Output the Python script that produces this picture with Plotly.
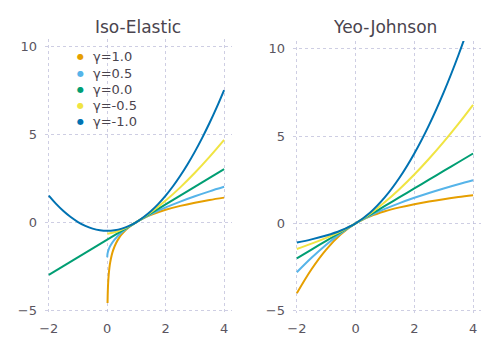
import plotly.graph_objects as go
from plotly.subplots import make_subplots

COLORS = ["#E69F00", "#56B4E9", "#009E73", "#F0E442", "#0072B2"]
LABELS = ["γ=1.0", "γ=0.5", "γ=0.0", "γ=-0.5", "γ=-1.0"]

# Iso-Elastic panel
iso_x_log = [0.01, 0.015, 0.02, 0.03, 0.05, 0.075, 0.1, 0.15, 0.2, 0.3, 0.4, 0.5, 0.65,
             0.8, 1, 1.25, 1.5, 2, 2.5, 3, 3.5, 4]
iso_y_log = [-4.605, -4.200, -3.912, -3.507, -2.996, -2.590, -2.303, -1.897, -1.609, -1.204,
             -0.916, -0.693, -0.431, -0.223, 0, 0.223, 0.405, 0.693, 0.916, 1.099, 1.253, 1.386]
iso_x_sqrt = [0, 0.01, 0.05, 0.1, 0.25, 0.5, 0.75, 1, 1.5, 2, 2.5, 3, 3.5, 4]
iso_y_sqrt = [-2, -1.8, -1.553, -1.368, -1, -0.586, -0.268, 0, 0.449, 0.828, 1.162, 1.464, 1.742, 2]
iso_x_lin = [-2, 4]
iso_y_lin = [-3, 3]
iso_x_pow = [0, 0.25, 0.5, 0.75, 1, 1.5, 2, 2.5, 3, 3.5, 4]
iso_y_pow = [-0.667, -0.583, -0.431, -0.234, 0, 0.558, 1.219, 1.969, 2.797, 3.699, 4.667]
iso_x_sq = [-2, -1.75, -1.5, -1.25, -1, -0.75, -0.5, -0.25, 0, 0.25, 0.5, 0.75, 1, 1.25,
            1.5, 1.75, 2, 2.25, 2.5, 2.75, 3, 3.25, 3.5, 3.75, 4]
iso_y_sq = [1.5, 1.031, 0.625, 0.281, 0, -0.219, -0.375, -0.469, -0.5, -0.469, -0.375, -0.219,
            0, 0.281, 0.625, 1.031, 1.5, 2.031, 2.625, 3.281, 4, 4.781, 5.625, 6.531, 7.5]

# Yeo-Johnson panel
yj_x = [-2, -1.5, -1, -0.5, 0, 0.5, 1, 1.5, 2, 2.5, 3, 3.5, 4]
yj_y_g10 = [-4, -2.625, -1.5, -0.625, 0, 0.405, 0.693, 0.916, 1.099, 1.253, 1.386, 1.504, 1.609]
yj_y_g05 = [-2.797, -1.969, -1.219, -0.558, 0, 0.449, 0.828, 1.162, 1.464, 1.742, 2, 2.243, 2.472]
yj_y_g00 = [-2, -1.5, -1, -0.5, 0, 0.5, 1, 1.5, 2, 2.5, 3, 3.5, 4]
yj_y_gm05 = [-1.464, -1.162, -0.828, -0.449, 0, 0.558, 1.219, 1.969, 2.797, 3.699, 4.667, 5.697, 6.787]
yj_y_gm10 = [-1.099, -0.916, -0.693, -0.405, 0, 0.625, 1.5, 2.625, 4, 5.625, 7.5, 9.625, 12]

iso_series = [(iso_x_log, iso_y_log), (iso_x_sqrt, iso_y_sqrt), (iso_x_lin, iso_y_lin),
              (iso_x_pow, iso_y_pow), (iso_x_sq, iso_y_sq)]
yj_series = [yj_y_g10, yj_y_g05, yj_y_g00, yj_y_gm05, yj_y_gm10]

TXT = "#4a444e"
TICK = "#5a5560"
GRID = "rgba(185,185,215,0.7)"
W, H = 498, 352
OFF = 8  # page body margin in the browser


def px_x(p):
    return (p - OFF) / W


def px_y(p):
    return 1 - (p - OFF) / H


fig = make_subplots(rows=1, cols=2)

for (xs, ys), color in zip(iso_series, COLORS):
    fig.add_trace(go.Scatter(x=xs, y=ys, mode="lines", line=dict(color=color, width=2, shape="spline"),
                             showlegend=False), row=1, col=1)
for ys, color in zip(yj_series, COLORS):
    fig.add_trace(go.Scatter(x=yj_x, y=ys, mode="lines", line=dict(color=color, width=2, shape="spline"),
                             showlegend=False), row=1, col=2)

axis_common = dict(showgrid=True, gridcolor=GRID, griddash="dot", gridwidth=1, zeroline=False,
                   showline=False, ticks="", automargin=False, tickfont=dict(size=13, color=TICK))
fig.update_xaxes(range=[-2.13, 4.27], tickvals=[-2, 0, 2, 4], ticklabelstandoff=6, **axis_common)
fig.update_yaxes(tickvals=[-5, 0, 5, 10], ticklabelstandoff=7, **axis_common)

# legend: colored dots with labels
legend_notes = []
for i, (label, color) in enumerate(zip(LABELS, COLORS)):
    yy = px_y(57 + 16 * i)
    legend_notes.append(dict(text="●", x=px_x(80), y=yy, xref="paper", yref="paper", showarrow=False,
                             font=dict(size=8, color=color), xanchor="center", yanchor="middle"))
    legend_notes.append(dict(text=label, x=px_x(91), y=yy, xref="paper", yref="paper", showarrow=False,
                             font=dict(size=13, color=TXT), xanchor="left", yanchor="middle"))

fig.update_layout(
    xaxis=dict(domain=[px_x(45), px_x(232)]),
    xaxis2=dict(domain=[px_x(293), px_x(481)]),
    yaxis=dict(domain=[px_y(313), px_y(39)], range=[-5.17, 10.4]),
    yaxis2=dict(domain=[px_y(313), px_y(41)], range=[-5.13, 10.44]),
    width=W, height=H,
    margin=dict(l=0, r=0, t=0, b=0, autoexpand=False),
    paper_bgcolor="white", plot_bgcolor="white",
    font=dict(family="DejaVu Sans", color=TXT),
    showlegend=False,
    annotations=[
        dict(text="Iso-Elastic", x=px_x(138), y=px_y(27), xref="paper", yref="paper",
             showarrow=False, font=dict(size=17, color=TXT), xanchor="center", yanchor="middle"),
        dict(text="Yeo-Johnson", x=px_x(385), y=px_y(27), xref="paper", yref="paper",
             showarrow=False, font=dict(size=17, color=TXT), xanchor="center", yanchor="middle"),
    ] + legend_notes,
)

fig.write_html("out.html")
